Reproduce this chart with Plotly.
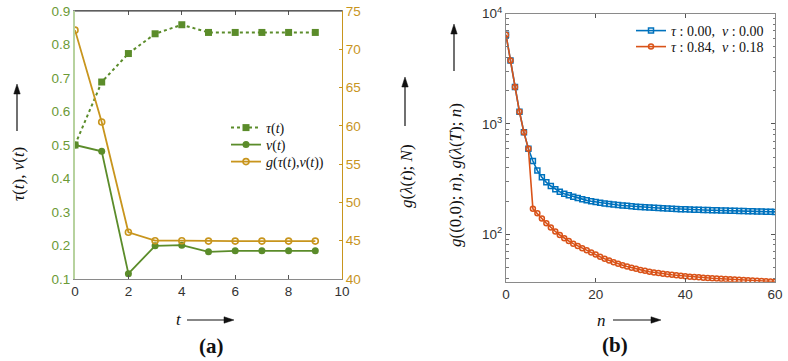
import plotly.graph_objects as go

# ---------------- data ----------------
t_vals = [0, 1, 2, 3, 4, 5, 6, 7, 8, 9]
tau_vals = [0.50, 0.688, 0.773, 0.832, 0.859, 0.836, 0.836, 0.836, 0.836, 0.836]
nu_vals = [0.50, 0.481, 0.116, 0.199, 0.201, 0.181, 0.184, 0.184, 0.184, 0.184]
g_vals = [72.5, 60.5, 46.1, 45.0, 45.0, 44.95, 44.95, 44.95, 44.95, 44.95]

n_vals = list(range(61))
g00_vals = [6440, 3770, 2160, 1290, 840, 595, 462, 378, 329, 296,
            274, 256, 243, 233, 226, 219, 213, 208, 203, 199,
            196, 193, 190, 188, 186, 184, 182.5, 181, 179.5, 178,
            177, 176, 175, 174, 173, 172, 171, 170.3, 169.6, 169,
            168.4, 167.8, 167.2, 166.7, 166.2, 165.7, 165.2, 164.8, 164.4, 164,
            163.6, 163.2, 162.8, 162.4, 162, 161.6, 161.2, 160.8, 160.4, 160, 159.6]
gT_vals = [6440, 3770, 2160, 1290, 840, 595, 170, 155, 139, 126,
           115, 106, 98.5, 92, 87, 82.2, 78.4, 74.7, 71.5, 68.5,
           65.5, 62.5, 60, 57.8, 55.8, 54, 52.5, 51.1, 49.8, 48.6,
           47.5, 46.6, 45.8, 45.1, 44.5, 43.9, 43.4, 42.9, 42.5, 42.1,
           41.7, 41.3, 41.0, 40.7, 40.4, 40.1, 39.9, 39.7, 39.5, 39.3,
           39.1, 38.9, 38.7, 38.5, 38.3, 38.1, 37.9, 37.7, 37.5, 37.35, 37.2]

left_xticks = [0, 2, 4, 6, 8, 10]
left_yticks = [0.1, 0.2, 0.3, 0.4, 0.5, 0.6, 0.7, 0.8, 0.9]
right_yticks = [40, 45, 50, 55, 60, 65, 70, 75]
b_xticks = [0, 20, 40, 60]
b_yticks = [100, 1000, 10000]
b_yticktext = ["10<sup>2</sup>", "10<sup>3</sup>", "10<sup>4</sup>"]

# ---------------- styling ----------------
W, H = 788, 361
GREEN = "#5b8c2a"
GREEN_TXT = "#6b9a36"
GOLD = "#c8951d"
BLUE = "#0072BD"
ORANGE = "#D95319"
SANS = "Liberation Sans"
SERIF = "Liberation Serif"


def px(x):
    return x / W


def py(y):
    return 1 - y / H


fig = go.Figure()

fig.add_trace(go.Scatter(x=t_vals, y=tau_vals, mode="lines+markers",
                         name="<i>τ</i>(<i>t</i>)",
                         line=dict(color=GREEN, width=2, dash="dot"),
                         marker=dict(symbol="square", size=7, color=GREEN),
                         xaxis="x", yaxis="y", legend="legend"))
fig.add_trace(go.Scatter(x=t_vals, y=nu_vals, mode="lines+markers",
                         name="<i>ν</i>(<i>t</i>)",
                         line=dict(color=GREEN, width=1.8),
                         marker=dict(symbol="circle", size=7, color=GREEN),
                         xaxis="x", yaxis="y", legend="legend2"))
fig.add_trace(go.Scatter(x=t_vals, y=g_vals, mode="lines+markers",
                         name="<i>g</i>(<i>τ</i>(<i>t</i>),<i>ν</i>(<i>t</i>))",
                         line=dict(color=GOLD, width=1.8),
                         marker=dict(symbol="circle-open", size=6, color=GOLD,
                                     line=dict(width=1.6, color=GOLD)),
                         xaxis="x", yaxis="y2", legend="legend3"))

fig.add_trace(go.Scatter(x=n_vals, y=g00_vals, mode="lines+markers",
                         name="<i>τ</i> : 0.00,  <i>ν</i> : 0.00",
                         line=dict(color=BLUE, width=1.6),
                         marker=dict(symbol="square-open", size=5, color=BLUE,
                                     line=dict(width=1.5, color=BLUE)),
                         xaxis="x3", yaxis="y3", legend="legend4"))
fig.add_trace(go.Scatter(x=n_vals, y=gT_vals, mode="lines+markers",
                         name="<i>τ</i> : 0.84,  <i>ν</i> : 0.18",
                         line=dict(color=ORANGE, width=1.6),
                         marker=dict(symbol="circle-open", size=5, color=ORANGE,
                                     line=dict(width=1.5, color=ORANGE)),
                         xaxis="x3", yaxis="y3", legend="legend5"))

tickfont = dict(family=SANS, size=13.5, color="#333333")
legfont = dict(family=SERIF, size=14, color="#111")


def leg(x, y):
    return dict(x=px(x), y=py(y), xanchor="left", yanchor="middle",
                bgcolor="rgba(255,255,255,0)", borderwidth=0,
                font=legfont, itemwidth=30, tracegroupgap=0)


fig.update_layout(
    width=W, height=H,
    margin=dict(l=0, r=0, t=0, b=0),
    paper_bgcolor="white", plot_bgcolor="white",
    showlegend=True,
    xaxis=dict(domain=[px(75), px(342)], range=[0, 10], tickvals=left_xticks,
               ticks="inside", ticklen=4, tickcolor="#555", mirror="ticks",
               showline=True, linecolor="#8a8a8a", linewidth=1,
               showgrid=False, zeroline=False, tickfont=tickfont,
               anchor="y", automargin=False),
    yaxis=dict(domain=[py(279), py(11)], range=[0.1, 0.9], tickvals=left_yticks,
               tickformat=".1f", ticks="", showline=True,
               linecolor="#b7d29e", linewidth=2, showgrid=False, zeroline=False,
               tickfont=dict(family=SANS, size=13.5, color=GREEN_TXT),
               anchor="x", automargin=False),
    yaxis2=dict(overlaying="y", side="right", range=[40, 75], tickvals=right_yticks,
                ticks="inside", ticklen=3, tickcolor=GOLD, showline=True,
                linecolor=GOLD, linewidth=1, showgrid=False, zeroline=False,
                tickfont=dict(family=SANS, size=13.5, color=GOLD),
                anchor="x", automargin=False),
    xaxis3=dict(domain=[px(506), px(775)], range=[0, 60], tickvals=b_xticks,
                ticks="inside", ticklen=4, tickcolor="#555", mirror="ticks",
                showline=True, linecolor="#8a8a8a", linewidth=1,
                showgrid=False, zeroline=False, tickfont=tickfont,
                anchor="y3", automargin=False),
    yaxis3=dict(domain=[py(281.7), py(13.7)], type="log", range=[1.57, 4],
                tickvals=b_yticks, ticktext=b_yticktext,
                ticks="inside", ticklen=4, tickcolor="#555", mirror="ticks",
                minor=dict(ticks="inside", ticklen=2.5, dtick="D1", tickcolor="#777",
                           showgrid=False),
                showline=True, linecolor="#8a8a8a", linewidth=1,
                showgrid=False, zeroline=False, tickfont=tickfont,
                anchor="x3", automargin=False),
    legend=leg(226, 128),
    legend2=leg(226, 145),
    legend3=leg(226, 162),
    legend4=leg(631, 31),
    legend5=leg(631, 47),
)

# dark top border of left panel
fig.add_shape(type="line", xref="paper", yref="paper",
              x0=px(75), x1=px(342), y0=py(11), y1=py(11),
              line=dict(color="#333333", width=1))

lab_font = dict(family=SERIF, size=17, color="#111")


def text_ann(x, y, text, angle=0, size=17, bold=False):
    f = dict(lab_font)
    f["size"] = size
    fig.add_annotation(x=px(x), y=py(y), xref="paper", yref="paper",
                       text=("<b>%s</b>" % text) if bold else text,
                       showarrow=False, textangle=angle, font=f,
                       xanchor="center", yanchor="middle")


def arrow_h(x0, x1, y):
    # horizontal arrow pointing right, head at x1
    fig.add_shape(type="line", xref="paper", yref="paper",
                  x0=px(x0), x1=px(x1 - 6), y0=py(y), y1=py(y),
                  line=dict(color="#111", width=1.2))
    fig.add_shape(type="path", xref="paper", yref="paper",
                  path="M %f %f L %f %f L %f %f Z" % (px(x1), py(y), px(x1 - 10), py(y - 3.2),
                                                      px(x1 - 10), py(y + 3.2)),
                  fillcolor="#111", line=dict(color="#111", width=0.5))


def arrow_v(x, y0, y1):
    # vertical arrow pointing up, head at y1 (smaller pixel y)
    fig.add_shape(type="line", xref="paper", yref="paper",
                  x0=px(x), x1=px(x), y0=py(y0), y1=py(y1 + 6),
                  line=dict(color="#111", width=1.2))
    fig.add_shape(type="path", xref="paper", yref="paper",
                  path="M %f %f L %f %f L %f %f Z" % (px(x), py(y1), px(x - 3.2), py(y1 + 10),
                                                      px(x + 3.2), py(y1 + 10)),
                  fillcolor="#111", line=dict(color="#111", width=0.5))


# x labels
text_ann(179, 319, "<i>t</i>")
arrow_h(187, 234, 320)
text_ann(601, 320, "<i>n</i>")
arrow_h(613, 661, 320)

# y labels
text_ann(18, 174, "<i>τ</i>(<i>t</i>), <i>ν</i>(<i>t</i>)", angle=-90)
arrow_v(17, 131, 84)
text_ann(406, 176, "<i>g</i>(<i>λ</i>(<i>t</i>); <i>N</i>)", angle=-90)
arrow_v(405, 126, 77)
text_ann(455, 175, "<i>g</i>((0,0); <i>n</i>), <i>g</i>(<i>λ</i>(<i>T</i>); <i>n</i>)", angle=-90)
arrow_v(454, 71, 24)

# panel tags
text_ann(211, 346, "(a)", size=21, bold=True)
text_ann(615, 345, "(b)", size=21, bold=True)

fig.write_html("out.html")
